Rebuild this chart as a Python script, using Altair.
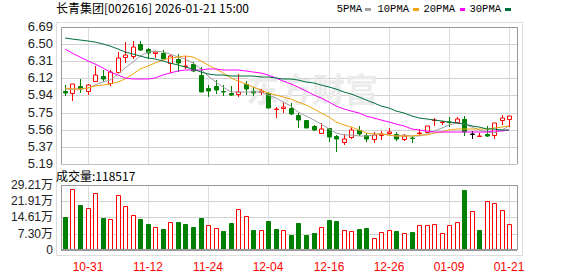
import altair as alt
import pandas as pd

title_text = "长青集团[002616] 2026-01-21 15:00"
vol_title = "成交量:118517"
watermark = "东方财富"

dates = ["10-28", "10-29", "10-30", "10-31", "11-03", "11-04", "11-05", "11-06", "11-07", "11-10",
         "11-11", "11-12", "11-13", "11-14", "11-17", "11-18", "11-19", "11-20", "11-21", "11-24",
         "11-25", "11-26", "11-27", "11-28", "12-01", "12-02", "12-03", "12-04", "12-05", "12-08",
         "12-09", "12-10", "12-11", "12-12", "12-15", "12-16", "12-17", "12-18", "12-19", "12-22",
         "12-23", "12-24", "12-25", "12-26", "12-29", "12-30", "12-31", "01-05", "01-06", "01-07",
         "01-08", "01-09", "01-12", "01-13", "01-14", "01-15", "01-16", "01-19", "01-20", "01-21"]

opens = [5.985, 5.972, 6.045, 5.992, 6.097, 6.157, 6.073, 6.202, 6.359, 6.373,
         6.506, 6.446, 6.405, 6.401, 6.300, 6.335, 6.261, 6.289, 6.167, 6.024,
         6.038, 5.992, 5.968, 5.951, 6.066, 5.992, 5.982, 5.965, 5.790, 5.801,
         5.807, 5.731, 5.671, 5.605, 5.528, 5.581, 5.493, 5.430, 5.479, 5.563,
         5.511, 5.458, 5.510, 5.530, 5.521, 5.462, 5.478, 5.530, 5.539, 5.666,
         5.647, 5.652, 5.650, 5.681, 5.521, 5.490, 5.514, 5.504, 5.668, 5.678]
closes = [5.968, 6.066, 6.010, 6.059, 6.160, 6.115, 6.192, 6.352, 6.383, 6.474,
          6.443, 6.408, 6.412, 6.335, 6.369, 6.300, 6.268, 6.209, 5.982, 5.989,
          5.996, 5.975, 5.940, 5.975, 6.010, 5.968, 5.985, 5.807, 5.793, 5.811,
          5.738, 5.668, 5.581, 5.563, 5.574, 5.486, 5.458, 5.465, 5.563, 5.521,
          5.458, 5.511, 5.515, 5.536, 5.465, 5.493, 5.474, 5.533, 5.605, 5.670,
          5.650, 5.646, 5.685, 5.535, 5.521, 5.493, 5.495, 5.636, 5.696, 5.720]
highs = [6.059, 6.070, 6.122, 6.062, 6.265, 6.219, 6.219, 6.415, 6.527, 6.533,
         6.533, 6.464, 6.422, 6.436, 6.387, 6.394, 6.369, 6.307, 6.247, 6.052,
         6.108, 6.059, 6.038, 6.177, 6.101, 6.031, 6.010, 5.982, 5.818, 5.860,
         5.853, 5.745, 5.671, 5.619, 5.640, 5.584, 5.511, 5.521, 5.591, 5.602,
         5.532, 5.535, 5.546, 5.581, 5.535, 5.521, 5.500, 5.567, 5.605, 5.689,
         5.660, 5.699, 5.703, 5.713, 5.549, 5.528, 5.609, 5.636, 5.724, 5.720]
lows = [5.933, 5.884, 5.968, 5.940, 6.097, 6.087, 6.045, 6.184, 6.296, 6.338,
        6.422, 6.338, 6.345, 6.335, 6.191, 6.198, 6.233, 6.195, 5.975, 5.919,
        5.961, 5.933, 5.933, 5.919, 5.940, 5.933, 5.947, 5.800, 5.689, 5.745,
        5.731, 5.584, 5.581, 5.546, 5.521, 5.431, 5.319, 5.399, 5.462, 5.493,
        5.427, 5.424, 5.451, 5.504, 5.444, 5.444, 5.417, 5.500, 5.539, 5.609,
        5.612, 5.591, 5.626, 5.500, 5.462, 5.479, 5.486, 5.458, 5.619, 5.598]

ma5 = [6.010, 6.010, 6.010, 6.017, 6.053, 6.082, 6.107, 6.176, 6.240, 6.303,
       6.369, 6.412, 6.423, 6.413, 6.392, 6.363, 6.335, 6.296, 6.226, 6.150,
       6.089, 6.030, 5.976, 5.975, 5.979, 5.974, 5.976, 5.949, 5.913, 5.873,
       5.827, 5.763, 5.718, 5.672, 5.625, 5.574, 5.532, 5.509, 5.509, 5.498,
       5.492, 5.503, 5.514, 5.508, 5.497, 5.504, 5.497, 5.500, 5.514, 5.555,
       5.583, 5.615, 5.641, 5.624, 5.593, 5.565, 5.536, 5.531, 5.566, 5.608]
ma10 = [6.020, 6.010, 6.010, 6.024, 6.045, 6.052, 6.062, 6.087, 6.122, 6.178,
        6.226, 6.260, 6.300, 6.327, 6.348, 6.366, 6.374, 6.360, 6.320, 6.271,
        6.226, 6.183, 6.136, 6.101, 6.065, 6.032, 6.003, 5.963, 5.944, 5.926,
        5.901, 5.870, 5.834, 5.793, 5.749, 5.701, 5.648, 5.614, 5.591, 5.562,
        5.533, 5.518, 5.512, 5.509, 5.498, 5.498, 5.500, 5.507, 5.511, 5.526,
        5.544, 5.556, 5.571, 5.569, 5.574, 5.574, 5.576, 5.586, 5.595, 5.601]
ma20 = [6.446, 6.405, 6.364, 6.322, 6.280, 6.238, 6.198, 6.160, 6.135, 6.122,
        6.121, 6.121, 6.135, 6.160, 6.190, 6.205, 6.214, 6.219, 6.221, 6.225,
        6.226, 6.222, 6.218, 6.214, 6.207, 6.199, 6.189, 6.162, 6.132, 6.099,
        6.064, 6.027, 5.985, 5.947, 5.907, 5.867, 5.826, 5.789, 5.768, 5.744,
        5.717, 5.694, 5.673, 5.651, 5.624, 5.600, 5.574, 5.561, 5.551, 5.544,
        5.539, 5.537, 5.542, 5.539, 5.536, 5.536, 5.538, 5.547, 5.553, 5.564]
ma30 = [6.568, 6.561, 6.551, 6.540, 6.526, 6.509, 6.485, 6.453, 6.418, 6.390,
        6.369, 6.352, 6.335, 6.317, 6.296, 6.272, 6.254, 6.226, 6.195, 6.175,
        6.165, 6.160, 6.156, 6.153, 6.150, 6.148, 6.145, 6.140, 6.133, 6.125,
        6.118, 6.104, 6.090, 6.074, 6.054, 6.033, 6.008, 5.979, 5.952, 5.920,
        5.887, 5.857, 5.827, 5.801, 5.771, 5.744, 5.717, 5.695, 5.682, 5.671,
        5.659, 5.648, 5.639, 5.624, 5.607, 5.591, 5.575, 5.569, 5.566, 5.563]

volumes = [149700, 272300, 201000, 186800, 256600, 145400, 139700, 248000, 195300, 156800,
           136900, 115500, 101200, 94100, 126900, 124000, 115500, 102600, 145400, 114000,
           97000, 85500, 119800, 182400, 152500, 89800, 88400, 128300, 94100, 88400,
           68400, 119800, 68400, 77000, 101200, 132600, 128300, 88400, 84100, 94100,
           98400, 54200, 79800, 88400, 85500, 75600, 81300, 114000, 111200, 118300,
           75600, 111200, 126900, 269500, 175400, 89800, 221000, 212400, 178200, 118517]
vol_dirs = ["down", "up", "down", "up", "up", "down", "up", "up", "up", "up",
            "down", "down", "up", "down", "up", "down", "down", "down", "down", "up",
            "up", "down", "down", "up", "up", "down", "up", "down", "down", "up",
            "down", "down", "down", "down", "up", "down", "down", "up", "up", "down",
            "down", "up", "up", "up", "down", "up", "down", "up", "up", "up",
            "up", "up", "up", "down", "up", "down", "up", "up", "up", "up"]

x_tick_idx = [3, 11, 19, 27, 35, 43, 51, 59]
x_tick_labels = ["10-31", "11-12", "11-24", "12-04", "12-16", "12-26", "01-09", "01-21"]
price_ticks = [5.19, 5.3775, 5.565, 5.7525, 5.94, 6.1275, 6.315, 6.5025, 6.69]
price_tick_labels = ["5.19", "5.37", "5.56", "5.75", "5.94", "6.12", "6.31", "6.50", "6.69"]
vol_ticks = [0, 73025, 146050, 219075, 292100]
vol_tick_labels = ["0", "7.30万", "14.61万", "21.91万", "29.21万"]

ma_names = ["5PMA", "10PMA", "20PMA", "30PMA"]
ma_fields = ["ma5", "ma10", "ma20", "ma30"]
ma_colors = ["#a0a0a0", "#f2a30f", "#ff00ff", "#00703c"]

# ---- layout (pixels) ----
W, H = 466, 233            # whole plot region: price panel on top, volume panel at bottom
PH = 143                   # price panel height
VH = 68                    # volume panel height
P0 = H - PH                # bottom of the price panel in the shared vertical space
XMIN, XMAX = -0.52, 60
LEG_TEXT_END = [306, 353, 399, 445]
LEG_DASH = [(309, 315), (357, 363), (404, 409), (449, 455)]

PMIN, PMAX = price_ticks[0], price_ticks[-1]
VMAX = vol_ticks[-1]
p_k = PH / (PMAX - PMIN)
v_k = VH / VMAX


def pexpr(field):
    return f"{P0} + (datum.{field} - {PMIN}) * {p_k}"


df = pd.DataFrame({
    "i": list(range(len(dates))), "date": dates,
    "open": opens, "close": closes, "high": highs, "low": lows,
    "ma5": ma5, "ma10": ma10, "ma20": ma20, "ma30": ma30,
    "vol": volumes, "vdir": vol_dirs,
})
price_tick_df = pd.DataFrame({"v": price_ticks, "lab": price_tick_labels})
vol_tick_df = pd.DataFrame({"v": vol_ticks, "lab": vol_tick_labels})
x_tick_df = pd.DataFrame({"i": x_tick_idx, "lab": x_tick_labels})
one = pd.DataFrame({"a": [0]})

xscale = alt.Scale(domain=[XMIN, XMAX], nice=False, zero=False, round=True)
yscale = alt.Scale(domain=[0, H], nice=False, zero=False, round=True)


def X(f):
    return alt.X(f + ":Q", scale=xscale, axis=None)


def Y(f):
    return alt.Y(f + ":Q", scale=yscale, axis=None)


kinds = ["up", "down", "flat", "grid", "dash", "frame", "base"]
stroke_scale = alt.Scale(domain=["up", "down", "flat"], range=["#ff0000", "#008000", "#000000"])
fill_scale = alt.Scale(domain=kinds, range=["#ffffff", "#008000", "#000000",
                                            "#d2d2d2", "#dcdcdc", "#999999", "#c0c0c0"])
dir_expr = "datum.close > datum.open ? 'up' : (datum.close < datum.open ? 'down' : 'flat')"


def S(f):
    return alt.Stroke(f + ":N", scale=stroke_scale, legend=None)


def F(f):
    return alt.Fill(f + ":N", scale=fill_scale, legend=None)


base = alt.Chart(df).transform_calculate(
    dir=dir_expr, u_open=pexpr("open"), u_close=pexpr("close"),
    u_high=pexpr("high"), u_low=pexpr("low"),
    u_ma5=pexpr("ma5"), u_ma10=pexpr("ma10"), u_ma20=pexpr("ma20"), u_ma30=pexpr("ma30"),
    u_vol=f"datum.vol * {v_k}", u_zero="0",
)

# ---- grid lines and frames, drawn as thin filled bars ----
hgrid_p = alt.Chart(price_tick_df).transform_calculate(
    u=pexpr("v"), x0=str(XMIN), x1=str(XMAX), k="'grid'"
).mark_bar(height=1, yOffset=0.5).encode(x=X("x0"), x2="x1:Q", y=Y("u"), fill=F("k"))
hgrid_v = alt.Chart(vol_tick_df).transform_calculate(
    u=f"datum.v * {v_k}", x0=str(XMIN), x1=str(XMAX), k="'grid'"
).mark_bar(height=1, yOffset=0.5).encode(x=X("x0"), x2="x1:Q", y=Y("u"), fill=F("k"))


def vgrid(lo, hi):
    return alt.Chart(x_tick_df).transform_calculate(
        a0=str(lo), a1=str(hi), k="'dash'"
    ).mark_bar(width=1, xOffset=0.5).encode(x=X("i"), y=Y("a0"), y2="a1:Q", fill=F("k"))


def hline(u, kind, h=1, offset=0.5):
    return alt.Chart(one).transform_calculate(
        x0=str(XMIN), x1=str(XMAX), u=str(u), k=f"'{kind}'"
    ).mark_bar(height=h, yOffset=offset).encode(x=X("x0"), x2="x1:Q", y=Y("u"), fill=F("k"))


def vline(xv, lo, hi, kind):
    return alt.Chart(one).transform_calculate(
        xv=str(xv), lo=str(lo), hi=str(hi), k=f"'{kind}'"
    ).mark_bar(width=1, xOffset=0.5).encode(x=X("xv"), y=Y("lo"), y2="hi:Q", fill=F("k"))


frames = [
    hline(H, "frame"), hline(P0, "base"), vline(XMIN, P0, H, "frame"), vline(XMAX, P0, H, "frame"),
    hline(VH, "frame"), vline(XMIN, 0, VH, "frame"), vline(XMAX, 0, VH, "frame"),
    hline(0, "frame", h=2, offset=0),
]

# ---- tick labels ----
plab = alt.Chart(price_tick_df).transform_calculate(u=pexpr("v")).mark_text(
    align="right", baseline="middle", font="Liberation Sans", fontSize=13, color="#222222"
).encode(x=alt.value(-3), y=Y("u"), text="lab:N")
vlab = alt.Chart(vol_tick_df).transform_calculate(u=f"datum.v * {v_k}").mark_text(
    align="right", baseline="middle", font="Liberation Sans, Noto Sans CJK SC", fontSize=12,
    color="#222222"
).encode(x=alt.value(-3), y=Y("u"), text="lab:N")
xlab = alt.Chart(x_tick_df).mark_text(
    align="center", baseline="middle", font="Liberation Sans", fontSize=12, color="#ff0000"
).encode(x=X("i"), y=alt.value(H + 12), text="lab:N")

watermark_layer = alt.Chart(pd.DataFrame({"t": [watermark]})).mark_text(
    align="left", baseline="middle", font="Noto Sans CJK SC", fontSize=33,
    fontWeight="bold", color="#ebebeb"
).encode(x=alt.value(190), y=alt.value(70), text="t:N")

# ---- candles, moving averages, volume ----
wicks = base.mark_rule(strokeWidth=1, xOffset=0.5).encode(
    x=X("i"), y=Y("u_low"), y2="u_high:Q", stroke=S("dir"))
bodies = base.mark_bar(width=4, strokeWidth=1, xOffset=0.5, yOffset=0.5).encode(
    x=X("i"), y=Y("u_open"), y2="u_close:Q", fill=F("dir"), stroke=S("dir"))
ma_lines = [base.mark_line(color=c, strokeWidth=1).encode(x=X("i"), y=Y("u_" + f))
            for f, c in zip(ma_fields, ma_colors)]
vol_bars = base.mark_bar(width=4, strokeWidth=1, xOffset=0.5, yOffset=0.5).encode(
    x=X("i"), y=Y("u_vol"), y2="u_zero:Q", fill=F("vdir"), stroke=S("vdir"))

header = alt.Chart(pd.DataFrame({"t": [title_text]})).mark_text(
    align="left", baseline="middle", font="Noto Sans CJK SC", fontSize=12, color="#000000"
).encode(x=alt.value(0), y=alt.value(-13), text="t:N")
vol_label = alt.Chart(pd.DataFrame({"t": [vol_title]})).mark_text(
    align="left", baseline="middle", font="Noto Sans CJK SC", fontSize=12, color="#000000"
).encode(x=alt.value(0), y=alt.value(PH + 12), text="t:N")

legend_layers = []
for name, col, xe, (d0, d1) in zip(ma_names, ma_colors, LEG_TEXT_END, LEG_DASH):
    legend_layers.append(alt.Chart(pd.DataFrame({"t": [name]})).mark_text(
        align="right", baseline="middle", font="Liberation Mono", fontSize=10.5, color="#000000"
    ).encode(x=alt.value(xe), y=alt.value(-13), text="t:N"))
    legend_layers.append(alt.Chart(one).mark_rule(color=col, strokeWidth=3).encode(
        x=alt.value(d0), x2=alt.value(d1), y=alt.value(-12.5)))

chart = alt.layer(
    hgrid_p, hgrid_v, vgrid(P0, H), vgrid(0, VH), watermark_layer,
    wicks, bodies, *ma_lines, vol_bars, *frames,
    plab, vlab, xlab, header, vol_label, *legend_layers
).properties(
    width=W, height=H,
    padding={"left": 56, "top": 22, "right": 56, "bottom": 21},
    autosize=alt.AutoSizeParams(type="none"),
).configure_view(stroke=None).configure(background="#ffffff")

chart.save("out.html", embed_options={"renderer": "svg", "actions": False})
